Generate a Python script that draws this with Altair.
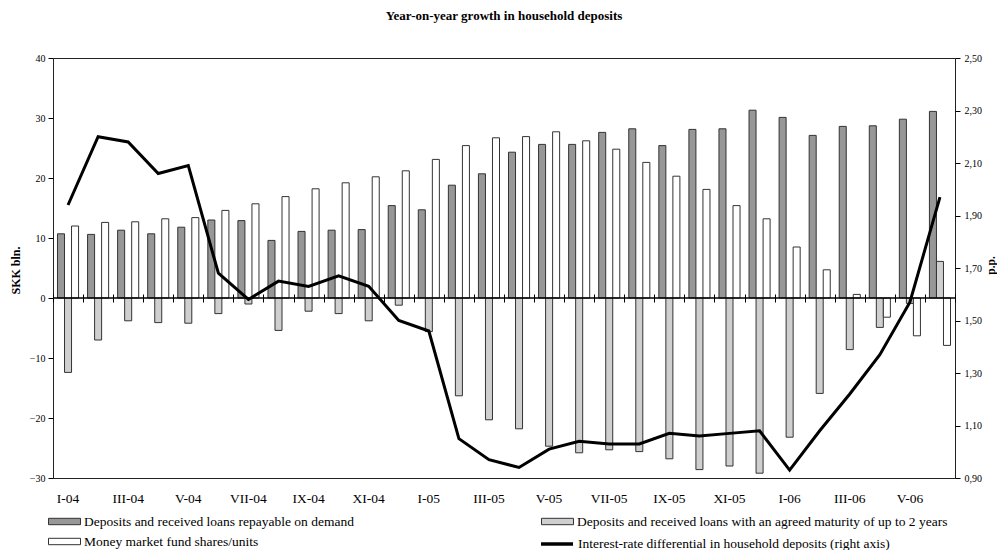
import altair as alt
import pandas as pd

roman = ["I", "II", "III", "IV", "V", "VI", "VII", "VIII", "IX", "X", "XI", "XII"]
months = [f"{r}-04" for r in roman] + [f"{r}-05" for r in roman] + [f"{r}-06" for r in roman[:6]]
label_months = months[::2]

demand = [10.7, 10.6, 11.3, 10.7, 11.8, 13.0, 12.9, 9.6, 11.1, 11.3, 11.4, 15.4,
          14.7, 18.8, 20.7, 24.3, 25.6, 25.6, 27.6, 28.2, 25.4, 28.1, 28.2, 31.3,
          30.1, 27.1, 28.6, 28.7, 29.8, 31.1]
term = [-12.4, -7.0, -3.8, -4.1, -4.2, -2.6, -1.0, -5.4, -2.2, -2.6, -3.8, -1.2,
        -5.6, -16.3, -20.3, -21.8, -24.7, -25.8, -25.3, -25.6, -26.8, -28.6, -28.0, -29.2,
        -23.2, -15.9, -8.6, -4.9, -0.9, 6.1]
money = [12.0, 12.6, 12.7, 13.2, 13.4, 14.6, 15.7, 16.9, 18.2, 19.2, 20.2, 21.2,
         23.1, 25.4, 26.7, 26.9, 27.7, 26.2, 24.8, 22.6, 20.3, 18.1, 15.4, 13.2,
         8.5, 4.7, 0.6, -3.2, -6.3, -7.9]
rate = [1.94, 2.20, 2.18, 2.06, 2.09, 1.68, 1.58, 1.65, 1.63, 1.67, 1.63, 1.50,
        1.46, 1.05, 0.97, 0.94, 1.01, 1.04, 1.03, 1.03, 1.07, 1.06, 1.07, 1.08,
        0.93, 1.08, 1.22, 1.37, 1.57, 1.97]

s_demand = "Deposits and received loans repayable on demand"
s_term = "Deposits and received loans with an agreed maturity of up to 2 years"
s_money = "Money market fund shares/units"
s_rate = "Interest-rate differential in household deposits (right axis)"
series = [s_demand, s_term, s_money]
colors = ["#979797", "#cfcfcf", "#ffffff"]

rows = []
for name, vals in zip(series, [demand, term, money]):
    for m, v in zip(months, vals):
        rows.append({"month": m, "series": name, "value": v})
df_bars = pd.DataFrame(rows)
df_line = pd.DataFrame({"month": months, "rate": rate, "name": s_rate})

FONT = "Liberation Serif"
LEG_FS = 13.5
xscale = alt.Scale(domain=months, paddingInner=0, paddingOuter=0)

bars = alt.Chart(df_bars).mark_bar(stroke="#333333", strokeWidth=1).encode(
    x=alt.X("month:N", sort=months, scale=xscale, title=None,
            axis=alt.Axis(orient="bottom", labels=False, domain=False, ticks=True,
                          tickBand="extent", tickSize=8, tickColor="#000000",
                          offset=-184, grid=False)),
    xOffset=alt.XOffset("series:N", sort=series,
                        scale=alt.Scale(domain=series, paddingInner=0, paddingOuter=0.64)),
    y=alt.Y("value:Q", scale=alt.Scale(domain=[-30, 40], nice=False, zero=False),
            axis=alt.Axis(values=list(range(-30, 41, 10)), grid=False, domain=False,
                          tickSize=5, tickColor="#000000", labelFontSize=10, labelPadding=3,
                          labelColor="#000000", title="SKK  bln.", titleFontSize=12,
                          titleFontWeight="bold", titleAngle=270, titleX=-38, titleY=212,
                          titleAlign="center", titleBaseline="middle", titleColor="#000000")),
    fill=alt.Fill("series:N", sort=series, scale=alt.Scale(domain=series, range=colors),
                  legend=alt.Legend(title=None, orient="none", legendX=3, legendY=455,
                                    columns=2, direction="horizontal",
                                    symbolType="M-2,-0.4H2V0.4H-2Z", symbolSize=256,
                                    symbolStrokeColor="#333333", symbolStrokeWidth=1,
                                    labelFontSize=LEG_FS, labelOffset=11, labelLimit=0,
                                    rowPadding=5, columnPadding=185, labelColor="#000000")),
)

zero = alt.Chart(pd.DataFrame({"z": [0]})).mark_rule(color="#000000", strokeWidth=1.5).encode(
    y=alt.Y("z:Q"))

line = alt.Chart(df_line).mark_line(strokeWidth=3, color="#000000").encode(
    x=alt.X("month:N", sort=months, scale=xscale, title=None,
            axis=alt.Axis(orient="bottom", values=label_months, ticks=False, tickSize=0,
                          domain=False, labelAngle=0, labelFontSize=13.5, labelPadding=13,
                          labelColor="#000000", grid=False)),
    y=alt.Y("rate:Q", scale=alt.Scale(domain=[0.9, 2.5], nice=False, zero=False),
            axis=alt.Axis(orient="right", values=[0.9, 1.1, 1.3, 1.5, 1.7, 1.9, 2.1, 2.3, 2.5],
                          labelExpr="replace(format(datum.value, '.2f'), '.', ',')",
                          grid=False, domain=False, tickSize=5, tickColor="#000000",
                          labelFontSize=10, labelPadding=4, labelColor="#000000",
                          title="p.p.", titleFontSize=11.5, titleFontWeight="bold",
                          titleAngle=270, titleX=36, titleY=207, titleAlign="center",
                          titleBaseline="middle", titleColor="#000000")),
    stroke=alt.Stroke("name:N", scale=alt.Scale(domain=[s_rate], range=["#000000"]),
                      legend=alt.Legend(title=None, orient="none", legendX=494, legendY=476,
                                        symbolType="M-2,0H2", symbolSize=256,
                                        symbolStrokeWidth=3.5, labelFontSize=LEG_FS,
                                        labelOffset=11, labelLimit=0, labelColor="#000000")),
)

chart = alt.layer(alt.layer(bars, zero), line).resolve_scale(
    y="independent"
).resolve_axis(x="independent").properties(
    width=902, height=420,
    title=alt.TitleParams("Year-on-year growth in household deposits", fontSize=13,
                          fontWeight="bold", anchor="middle", offset=30, color="#000000"),
    autosize=alt.AutoSizeParams(type="none"),
    padding={"left": 45, "top": 50, "right": 42, "bottom": 72},
).configure(font=FONT).configure_view(stroke="#222222", strokeWidth=1)

chart.save("out.html", embed_options={"renderer": "svg", "actions": False})
